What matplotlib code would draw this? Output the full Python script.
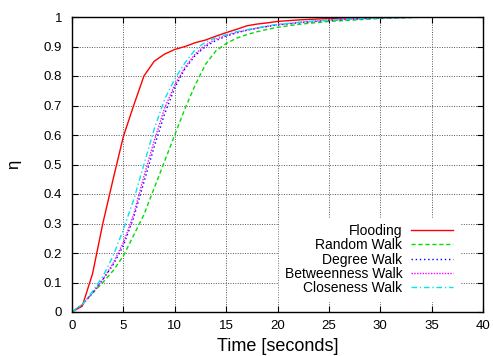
import matplotlib
matplotlib.use("Agg")
import matplotlib.pyplot as plt

t = [0, 1, 2, 3, 4, 5, 6, 7, 8, 9, 10, 11, 12, 13, 14, 15, 16, 17, 18, 19, 20, 22, 25, 30, 35, 40]
flooding = [0, 0.02, 0.13, 0.30, 0.45, 0.595, 0.70, 0.80, 0.85, 0.874, 0.89, 0.90, 0.913, 0.922, 0.935,
            0.947, 0.958, 0.97, 0.976, 0.98, 0.985, 0.99, 0.995, 1.0, 1.0, 1.0]
random_walk = [0, 0.025, 0.064, 0.10, 0.14, 0.19, 0.26, 0.33, 0.42, 0.51, 0.60, 0.69, 0.77, 0.84, 0.885,
               0.91, 0.928, 0.94, 0.95, 0.958, 0.965, 0.975, 0.985, 0.995, 1.0, 1.0]
degree_walk = [0, 0.025, 0.064, 0.11, 0.16, 0.225, 0.32, 0.44, 0.56, 0.67, 0.76, 0.825, 0.87, 0.90, 0.92,
               0.935, 0.946, 0.955, 0.962, 0.968, 0.973, 0.98, 0.989, 0.997, 1.0, 1.0]
betweenness_walk = [0, 0.025, 0.066, 0.11, 0.165, 0.235, 0.33, 0.46, 0.58, 0.69, 0.77, 0.83, 0.875, 0.905, 0.925,
                    0.937, 0.948, 0.955, 0.962, 0.968, 0.974, 0.981, 0.99, 0.997, 1.0, 1.0]
closeness_walk = [0, 0.025, 0.07, 0.12, 0.19, 0.28, 0.38, 0.50, 0.62, 0.72, 0.79, 0.845, 0.89, 0.915, 0.93,
                  0.94, 0.95, 0.957, 0.963, 0.97, 0.975, 0.982, 0.99, 0.997, 1.0, 1.0]

labels = ["Flooding", "Random Walk", "Degree Walk", "Betweenness Walk", "Closeness Walk"]
xticks = [0, 5, 10, 15, 20, 25, 30, 35, 40]
yticks = [0, 0.1, 0.2, 0.3, 0.4, 0.5, 0.6, 0.7, 0.8, 0.9, 1]
ytick_labels = ["0", "0.1", "0.2", "0.3", "0.4", "0.5", "0.6", "0.7", "0.8", "0.9", "1"]

plt.rcParams['font.family'] = ['Liberation Sans', 'DejaVu Sans']

fig = plt.figure(figsize=(4.93, 3.56), dpi=100)
ax = fig.add_axes([72/493, 44/356, 411/493, 295/356])

styles = [
    dict(color="#ff0000", linestyle="-"),
    dict(color="#00dd00", linestyle=(0, (3, 2))),
    dict(color="#0000ff", linestyle=(0, (1, 2))),
    dict(color="#ff00ff", linestyle=(0, (1, 1))),
    dict(color="#00e5ee", linestyle=(0, (4, 2, 1, 2))),
]
series = [flooding, random_walk, degree_walk, betweenness_walk, closeness_walk]
for s, lab, st in zip(series, labels, styles):
    ax.plot(t, s, label=lab, linewidth=1.0, **st)

ax.set_xlim(0, 40)
ax.set_ylim(0, 1)
ax.set_xticks(xticks)
ax.set_yticks(yticks)
ax.set_yticklabels(ytick_labels)
ax.tick_params(axis="both", direction="in", top=True, right=True, labelsize=9.5, length=4, width=0.8)
ax.tick_params(axis="x", pad=6)
ax.tick_params(axis="y", pad=7)
ax.grid(True, color="#555555", linestyle=(0, (1, 1.5)), linewidth=0.7)
for sp in ax.spines.values():
    sp.set_linewidth(1.0)
ax.set_xlabel("Time [seconds]", fontsize=13, labelpad=4)
ax.set_ylabel("η", fontsize=12, rotation=90, labelpad=16)

leg = ax.legend(loc="lower right", bbox_to_anchor=(0.9406, 0.0386), borderaxespad=0,
                markerfirst=False, frameon=True,
                fancybox=False, edgecolor="white", framealpha=1.0, fontsize=10, handlelength=3.0,
                labelspacing=0.02, borderpad=0.4, handletextpad=0.65)
for txt in leg.get_texts():
    txt.set_ha("right")
leg._legend_box.align = "right"

fig.savefig("out.png", dpi=100)
